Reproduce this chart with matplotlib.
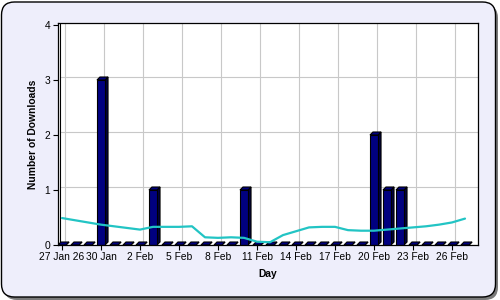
import numpy as np
import matplotlib
matplotlib.use("Agg")
import matplotlib.pyplot as plt
from matplotlib.patches import Polygon, Rectangle, FancyBboxPatch

plt.rcParams['font.family'] = ['Liberation Sans', 'DejaVu Sans']

# one value per day, 27 Jan .. 27 Feb
days = np.arange(32)
downloads = [0, 0, 0, 3, 0, 0, 0, 1, 0, 0, 0, 0, 0, 0, 1, 0,
             0, 0, 0, 0, 0, 0, 0, 0, 2, 1, 1, 0, 0, 0, 0, 0]
trend = [0.49, 0.45, 0.41, 0.37, 0.34, 0.31, 0.28, 0.33, 0.33, 0.33, 0.34,
         0.14, 0.13, 0.14, 0.13, 0.06, 0.05, 0.18, 0.25, 0.32, 0.33, 0.33,
         0.27, 0.26, 0.26, 0.28, 0.30, 0.32, 0.34, 0.37, 0.41, 0.48]
tick_days = [0, 3, 6, 9, 12, 15, 18, 21, 24, 27, 30]
tick_labels = ["27 Jan 26", "30 Jan", "2 Feb", "5 Feb", "8 Feb", "11 Feb",
               "14 Feb", "17 Feb", "20 Feb", "23 Feb", "26 Feb"]
y_ticks = [0, 1, 2, 3, 4]

fig = plt.figure(figsize=(5, 3), dpi=100)
fig.patch.set_facecolor('white')

# rounded panel with a shadow
shadow = FancyBboxPatch((0.04, 0.0), 4.94, 2.95, boxstyle="round,pad=0,rounding_size=0.13",
                        transform=fig.dpi_scale_trans, facecolor='#7a7a7a', edgecolor='none',
                        zorder=-2)
panel = FancyBboxPatch((0.015, 0.03), 4.94, 2.95, boxstyle="round,pad=0,rounding_size=0.13",
                       transform=fig.dpi_scale_trans, facecolor='#eeeefb', edgecolor='black',
                       lw=1.0, zorder=-1)
fig.patches.extend([shadow, panel])

ax = fig.add_axes([58 / 500, 55 / 300, 420 / 500, 222 / 300])
ax.set_zorder(2)
xl = (-4 / 13, 32.0)
yl = (0, 222 / 55)
ax.set_xlim(*xl)
ax.set_ylim(*yl)
ax.set_facecolor('white')

# depth of the 3D look, in data units (3 px)
dx = 3 / 13
dy = 3 / 55

grid_kw = dict(color='#c8c8c8', lw=0.8, zorder=1)
for t in tick_days:
    ax.plot([t + dx, t + dx], [dy, yl[1]], **grid_kw)
for v in y_ticks[1:-1]:
    ax.plot([xl[0] + dx, xl[1]], [v + dy, v + dy], **grid_kw)
ax.plot([xl[0] + 2 / 13, xl[0] + 2 / 13], [dy, yl[1]], color='black', lw=0.8, zorder=2)

hw = 0.31
for d, v in zip(days, downloads):
    ax.add_patch(Polygon([(d + hw, 0), (d + hw + dx, dy), (d + hw + dx, v + dy), (d + hw, v)],
                         closed=True, facecolor='#000040', edgecolor='black', lw=0.8, zorder=3))
    ax.add_patch(Polygon([(d - hw, v), (d + hw, v), (d + hw + dx, v + dy), (d - hw + dx, v + dy)],
                         closed=True, facecolor='#000080', edgecolor='black', lw=0.8, zorder=3))
    if v > 0:
        ax.add_patch(Rectangle((d - hw, 0), 2 * hw, v, facecolor='#000080',
                               edgecolor='black', lw=0.8, zorder=4))

ax.plot(days, trend, color='#22c4c4', lw=1.6, zorder=5, solid_capstyle='round',
        solid_joinstyle='round')

for s in ax.spines.values():
    s.set_color('black')
    s.set_linewidth(0.9)
    s.set_zorder(6)

ax.set_xticks(tick_days)
ax.set_xticklabels(tick_labels)
ax.set_yticks(y_ticks)
ax.tick_params(direction='out', length=3.6, width=0.8, labelsize=7.4, colors='black')
ax.tick_params(axis='x', pad=1.5)
ax.tick_params(axis='y', pad=2)

ax.set_xlabel("Day", fontsize=7.4, fontweight='bold', labelpad=5)
ax.set_ylabel("Number of Downloads", fontsize=7.4, fontweight='bold', labelpad=5)

fig.savefig("out.png", dpi=100)
